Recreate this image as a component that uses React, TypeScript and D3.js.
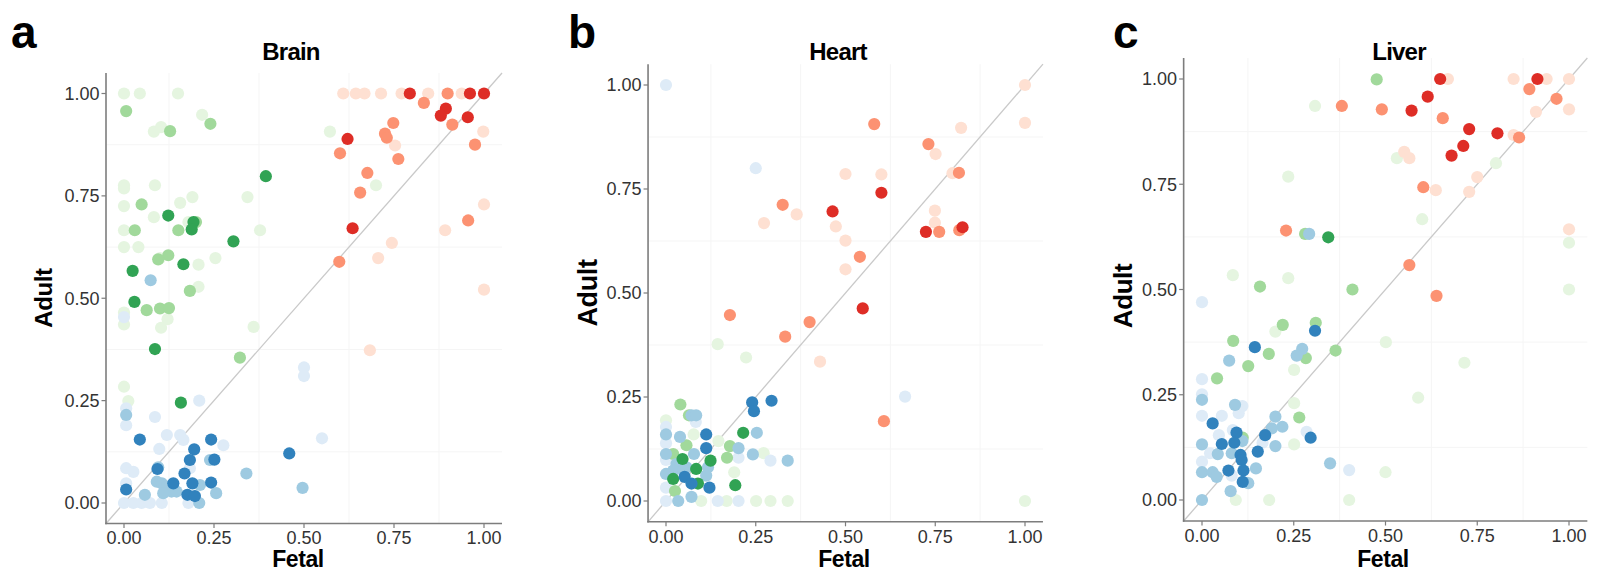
import React from "react";
import * as d3 from "d3";

type Pt = [number, number]; // [fetal, adult]

// Series identifiers and their ColorBrewer colours (light → dark)
const seriesOrder = ["green1", "blue1", "red1", "green2", "blue2", "red2", "green3", "blue3", "red3"];
const seriesColors: Record<string, string> = {
  green1: "#e5f5e0", green2: "#a1d99b", green3: "#31a354",
  blue1: "#deebf7", blue2: "#9ecae1", blue3: "#3182bd",
  red1: "#fee0d2", red2: "#fc9272", red3: "#de2d26",
};

const tickValues = [0, 0.25, 0.5, 0.75, 1];
const gridValues = [0.125, 0.375, 0.625, 0.875];

// ---- Brain ----
const brainGreen1: Pt[] = [[0,1.0],[0.044,1.0],[0.15,1.0],[0.217,0.948],[0.083,0.907],[0.103,0.918],[0.572,0.907],[0,0.776],[0,0.768],[0.086,0.776],[0,0.725],[0.19,0.747],[0.156,0.733],[0.343,0.747],[0.70,0.776],[0.083,0.698],[0,0.666],[0.179,0.686],[0.378,0.666],[0,0.625],[0.04,0.625],[0.1,0.598],[0.207,0.582],[0.254,0.598],[0.207,0.528],[0,0.465],[0,0.436],[0.121,0.449],[0.103,0.428],[0.36,0.43],[0.012,0.249],[0,0.284]];
const brainGreen2: Pt[] = [[0.006,0.957],[0.24,0.926],[0.128,0.908],[0.049,0.729],[0.03,0.666],[0.151,0.666],[0.2,0.686],[0.123,0.605],[0.095,0.595],[0.183,0.518],[0.063,0.471],[0.1,0.475],[0.125,0.476],[0.322,0.355]];
const brainGreen3: Pt[] = [[0.394,0.798],[0.123,0.702],[0.193,0.686],[0.188,0.668],[0.304,0.639],[0.024,0.567],[0.165,0.583],[0.029,0.491],[0.086,0.376],[0.158,0.245]];
const brainBlue1: Pt[] = [[0,0.454],[0.5,0.331],[0.5,0.31],[0.55,0.158],[0.006,0.231],[0.006,0.19],[0.086,0.21],[0.209,0.25],[0.119,0.166],[0.156,0.166],[0.098,0.132],[0.165,0.154],[0.276,0.141],[0.006,0.085],[0.026,0.076],[0.006,0.048],[0.026,0],[0.049,0],[0.072,0],[0.105,0],[0.179,0],[0.183,0.085],[0,0]];
const brainBlue2: Pt[] = [[0.074,0.544],[0.006,0.215],[0.095,0.087],[0.091,0.052],[0.105,0.048],[0.119,0.04],[0.132,0.028],[0.146,0.028],[0.109,0.024],[0.058,0.02],[0.211,0.044],[0.256,0.024],[0.209,0],[0.34,0.072],[0.496,0.037],[0.239,0.105]];
const brainBlue3: Pt[] = [[0.044,0.155],[0.242,0.155],[0.195,0.131],[0.251,0.106],[0.183,0.105],[0.093,0.083],[0.168,0.072],[0.006,0.033],[0.137,0.048],[0.19,0.048],[0.242,0.05],[0.176,0.02],[0.197,0.017],[0.459,0.121]];
const brainRed1: Pt[] = [[0.609,1],[0.644,1],[0.668,1],[0.714,1],[0.771,1],[0.845,1],[0.938,1],[0.998,0.907],[0.753,0.873],[1,0.729],[0.892,0.666],[0.744,0.635],[0.706,0.598],[1,0.521],[0.683,0.373]];
const brainRed2: Pt[] = [[0.899,1],[0.833,0.977],[0.748,0.928],[0.725,0.902],[0.73,0.892],[0.912,0.924],[0.975,0.875],[0.6,0.854],[0.762,0.84],[0.676,0.806],[0.656,0.758],[0.956,0.69],[0.598,0.589]];
const brainRed3: Pt[] = [[0.794,1],[0.961,1],[1,1],[0.894,0.963],[0.88,0.946],[0.955,0.942],[0.621,0.889],[0.635,0.671]];

// ---- Heart ----
const heartGreen1: Pt[] = [[0.144,0.377],[0.223,0.345],[0,0.194],[0.077,0.16],[0.146,0.144],[0.272,0.115],[0.19,0.069],[0.098,0],[0.169,0],[0.251,0],[0.291,0],[0.339,0],[1,0]];
const heartGreen2: Pt[] = [[0.04,0.232],[0.064,0.206],[0.057,0.134],[0.178,0.132],[0.02,0.113],[0.17,0.104],[0.025,0.024]];
const heartGreen3: Pt[] = [[0.215,0.164],[0.046,0.101],[0.124,0.097],[0.084,0.077],[0.02,0.053],[0.089,0.042],[0.193,0.038]];
const heartBlue1: Pt[] = [[0,1],[0.25,0.8],[0.666,0.251],[0.083,0.19],[0,0.178],[0,0.139],[0.202,0.104],[0.291,0.097],[0,0.099],[0,0.032],[0,0],[0.144,0],[0.202,0]];
const heartBlue2: Pt[] = [[0.071,0.206],[0.084,0.206],[0,0.16],[0.253,0.164],[0.039,0.154],[0.202,0.127],[0,0.113],[0.078,0.113],[0.242,0.112],[0.339,0.097],[0.029,0.089],[0.039,0.081],[0.057,0.081],[0.02,0.073],[0.048,0.073],[0,0.065],[0.117,0.081],[0.112,0.061],[0.071,0.01],[0.034,0]];
const heartBlue3: Pt[] = [[0.24,0.237],[0.294,0.241],[0.245,0.216],[0.112,0.16],[0.112,0.127],[0.052,0.058],[0.071,0.042],[0.121,0.032]];
const heartRed1: Pt[] = [[1,1],[1,0.909],[0.822,0.897],[0.751,0.834],[0.5,0.786],[0.6,0.785],[0.798,0.788],[0.364,0.689],[0.273,0.668],[0.473,0.66],[0.749,0.698],[0.749,0.669],[0.5,0.626],[0.5,0.557],[0.429,0.335]];
const heartRed2: Pt[] = [[0.58,0.906],[0.731,0.858],[0.816,0.789],[0.325,0.712],[0.761,0.647],[0.817,0.651],[0.54,0.587],[0.178,0.447],[0.4,0.43],[0.332,0.395],[0.607,0.192]];
const heartRed3: Pt[] = [[0.6,0.741],[0.464,0.696],[0.724,0.647],[0.826,0.658],[0.548,0.463]];

// ---- Liver ----
const liverGreen1: Pt[] = [[0.308,0.936],[0.531,0.812],[0.801,0.8],[0.235,0.768],[0.6,0.667],[1,0.611],[0.084,0.534],[0.235,0.527],[1,0.5],[0.2,0.4],[0.501,0.375],[0.251,0.309],[0.715,0.326],[0.589,0.243],[0.251,0.23],[0.251,0.132],[0.5,0.066],[0.092,0],[0.183,0],[0.401,0]];
const liverGreen2: Pt[] = [[0.476,0.999],[0.281,0.632],[0.158,0.507],[0.41,0.5],[0.31,0.421],[0.22,0.416],[0.085,0.378],[0.182,0.347],[0.283,0.337],[0.364,0.355],[0.126,0.318],[0.041,0.289],[0.265,0.196],[0.111,0.148]];
const liverGreen3: Pt[] = [[0.344,0.624]];
const liverBlue1: Pt[] = [[0,0.47],[0,0.287],[0,0.251],[0.11,0.223],[0.1,0.206],[0,0.2],[0.054,0.2],[0.084,0.166],[0.285,0.162],[0.046,0.154],[0.165,0.136],[0.022,0.111],[0,0.091],[0.081,0.058],[0.401,0.071]];
const liverBlue2: Pt[] = [[0.292,0.632],[0.273,0.359],[0.258,0.343],[0.074,0.331],[0,0.238],[0.09,0.226],[0.2,0.198],[0.219,0.174],[0.19,0.17],[0,0.132],[0.11,0.14],[0.2,0.128],[0.043,0.109],[0.081,0.111],[0.147,0.075],[0,0.066],[0.029,0.066],[0.04,0.055],[0.349,0.087],[0.126,0.04],[0.078,0.021],[0,0]];
const liverBlue3: Pt[] = [[0.308,0.402],[0.144,0.363],[0.029,0.182],[0.094,0.16],[0.296,0.148],[0.172,0.154],[0.054,0.133],[0.088,0.136],[0.152,0.115],[0.105,0.107],[0.108,0.095],[0.072,0.07],[0.113,0.07],[0.111,0.043]];
const liverRed1: Pt[] = [[0.67,1],[0.849,1],[0.939,1],[1,1],[0.91,0.922],[1,0.928],[0.849,0.867],[0.551,0.827],[0.565,0.812],[0.75,0.767],[0.637,0.736],[0.728,0.732],[1,0.643]];
const liverRed2: Pt[] = [[0.892,0.976],[0.966,0.953],[0.381,0.936],[0.49,0.928],[0.656,0.907],[0.864,0.861],[0.603,0.743],[0.229,0.64],[0.565,0.558],[0.639,0.485]];
const liverRed3: Pt[] = [[0.649,1],[0.914,1],[0.615,0.958],[0.571,0.925],[0.728,0.881],[0.805,0.871],[0.712,0.841],[0.68,0.818]];

const brainSeries: Record<string, Pt[]> = {
  green1: brainGreen1, green2: brainGreen2, green3: brainGreen3,
  blue1: brainBlue1, blue2: brainBlue2, blue3: brainBlue3,
  red1: brainRed1, red2: brainRed2, red3: brainRed3,
};
const heartSeries: Record<string, Pt[]> = {
  green1: heartGreen1, green2: heartGreen2, green3: heartGreen3,
  blue1: heartBlue1, blue2: heartBlue2, blue3: heartBlue3,
  red1: heartRed1, red2: heartRed2, red3: heartRed3,
};
const liverSeries: Record<string, Pt[]> = {
  green1: liverGreen1, green2: liverGreen2, green3: liverGreen3,
  blue1: liverBlue1, blue2: liverBlue2, blue3: liverBlue3,
  red1: liverRed1, red2: liverRed2, red3: liverRed3,
};

interface PanelLayout {
  letter: string;
  title: string;
  series: Record<string, Pt[]>;
  x0: number; x1: number; // pixel of value 0 and 1 on x
  y0: number; y1: number; // pixel of value 0 and 1 on y
  titleX: number;
  letterX: number;
  xLabelX: number;
  yLabelX: number; yLabelY: number; yLabelSize: number;
}

const panels: PanelLayout[] = [
  { letter: "a", title: "Brain", series: brainSeries, x0: 124, x1: 484, y0: 503, y1: 93.5,
    titleX: 291, letterX: 11, xLabelX: 298, yLabelX: 52, yLabelY: 298, yLabelSize: 24 },
  { letter: "b", title: "Heart", series: heartSeries, x0: 666, x1: 1025, y0: 501, y1: 85,
    titleX: 838, letterX: 568, xLabelX: 844, yLabelX: 597, yLabelY: 293, yLabelSize: 27 },
  { letter: "c", title: "Liver", series: liverSeries, x0: 1202, x1: 1569, y0: 500, y1: 79,
    titleX: 1399, letterX: 1113, xLabelX: 1383, yLabelX: 1132, yLabelY: 296, yLabelSize: 26 },
];

const FONT = "'Liberation Sans', Arial, Helvetica, sans-serif";
const R = 6.1;

function Panel({ p }: { p: PanelLayout }) {
  const lo = -0.05, hi = 1.05;
  const x = d3.scaleLinear().domain([0, 1]).range([p.x0, p.x1]);
  const y = d3.scaleLinear().domain([0, 1]).range([p.y0, p.y1]);
  const fmt = d3.format(".2f");
  const left = x(lo), right = x(hi), top = y(hi), bottom = y(lo);
  return (
    <g>
      {/* minor grid */}
      {gridValues.map((v) => (
        <g key={"g" + v}>
          <line x1={x(v)} x2={x(v)} y1={top} y2={bottom} stroke="#f5f5f5" strokeWidth={1} />
          <line x1={left} x2={right} y1={y(v)} y2={y(v)} stroke="#f5f5f5" strokeWidth={1} />
        </g>
      ))}
      {/* identity line */}
      <line x1={x(lo)} y1={y(lo)} x2={x(hi)} y2={y(hi)} stroke="#c9c9c9" strokeWidth={1.3} />
      {/* points */}
      {seriesOrder.map((k) =>
        (p.series[k] || []).map((d, i) => (
          <circle key={k + i} cx={x(d[0])} cy={y(d[1])} r={R} fill={seriesColors[k]} />
        ))
      )}
      {/* axes */}
      <line x1={left} x2={left} y1={top} y2={bottom + 0.8} stroke="#7d7d7d" strokeWidth={1.6} />
      <line x1={left - 0.8} x2={right} y1={bottom} y2={bottom} stroke="#7d7d7d" strokeWidth={1.6} />
      {tickValues.map((v) => (
        <g key={"t" + v}>
          <line x1={left - 4.5} x2={left} y1={y(v)} y2={y(v)} stroke="#7d7d7d" strokeWidth={1.2} />
          <text x={left - 6.5} y={y(v)} dy="0.36em" textAnchor="end" fontFamily={FONT} fontSize={18} fill="#333">
            {fmt(v)}
          </text>
          <line x1={x(v)} x2={x(v)} y1={bottom} y2={bottom + 4.5} stroke="#7d7d7d" strokeWidth={1.2} />
          <text x={x(v)} y={bottom + 21} textAnchor="middle" fontFamily={FONT} fontSize={18} fill="#333">
            {fmt(v)}
          </text>
        </g>
      ))}
      {/* titles */}
      <text x={p.titleX} y={60} textAnchor="middle" fontFamily={FONT} fontWeight="bold" fontSize={24} letterSpacing={-0.8} fill="#000">
        {p.title}
      </text>
      <text x={p.letterX} y={48} fontFamily={FONT} fontWeight="bold" fontSize={46} fill="#000">
        {p.letter}
      </text>
      <text x={p.xLabelX} y={567} textAnchor="middle" fontFamily={FONT} fontWeight="bold" fontSize={23} letterSpacing={-0.4} fill="#000">
        Fetal
      </text>
      <text transform={`translate(${p.yLabelX},${p.yLabelY}) rotate(-90)`} textAnchor="middle" fontFamily={FONT} fontWeight="bold" fontSize={p.yLabelSize} letterSpacing={-0.4} fill="#000">
        Adult
      </text>
    </g>
  );
}

export default function App() {
  return (
    <svg width={1604} height={571} style={{ position: "absolute", left: 0, top: 0, display: "block", background: "#fff" }}>
      <rect width={1604} height={571} fill="#fff" />
      {panels.map((p) => (
        <Panel key={p.letter} p={p} />
      ))}
    </svg>
  );
}
